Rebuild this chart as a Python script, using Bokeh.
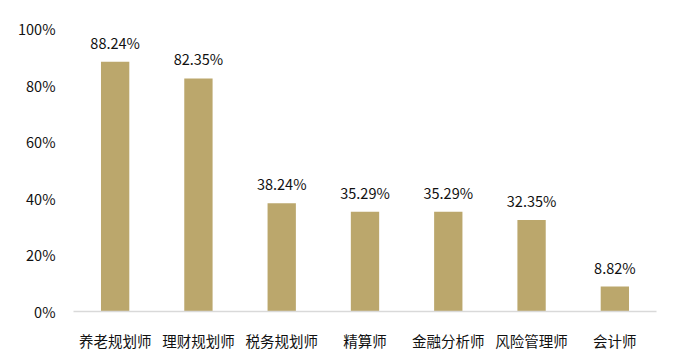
from bokeh.plotting import figure
from bokeh.models import ColumnDataSource, Range1d, FixedTicker, PrintfTickFormatter
from bokeh.core.properties import value
from bokeh.embed import file_html
from bokeh.resources import INLINE

categories = ["养老规划师", "理财规划师", "税务规划师", "精算师", "金融分析师", "风险管理师", "会计师"]
values = [88.24, 82.35, 38.24, 35.29, 35.29, 32.35, 8.82]
labels = ["88.24%", "82.35%", "38.24%", "35.29%", "35.29%", "32.35%", "8.82%"]
y_ticks = [0, 20, 40, 60, 80, 100]

FONT = "Noto Sans CJK SC"
src = ColumnDataSource(dict(cat=categories, val=values, lab=labels))

p = figure(x_range=categories, y_range=Range1d(0, 100), width=700, height=364,
           output_backend="svg", toolbar_location=None,
           min_border_left=73, min_border_right=44, min_border_top=28, min_border_bottom=53)
p.vbar(x="cat", top="val", width=0.34, source=src, fill_color="#BBA76C", line_color=None)
p.text(x="cat", y="val", text="lab", source=src, text_align="center", text_baseline="bottom",
       y_offset=-9, text_font=value(FONT), text_font_size="14.5px", text_color="#111111")

p.outline_line_color = None
p.grid.grid_line_color = None
p.background_fill_color = "white"
p.border_fill_color = "white"

p.yaxis.ticker = FixedTicker(ticks=y_ticks)
p.yaxis.formatter = PrintfTickFormatter(format="%d%%")
p.yaxis.axis_line_color = None
p.yaxis.major_tick_line_color = None
p.yaxis.minor_tick_line_color = None
p.yaxis.major_label_standoff = 12
p.yaxis.major_label_text_font = FONT
p.yaxis.major_label_text_font_size = "14.5px"
p.yaxis.major_label_text_color = "#111111"

p.xaxis.axis_line_color = "#D9D9D9"
p.xaxis.axis_line_width = 1.5
p.xaxis.major_tick_line_color = None
p.xaxis.minor_tick_line_color = None
p.xaxis.major_label_standoff = 12
p.xaxis.major_label_text_font = FONT
p.xaxis.major_label_text_font_size = "14.5px"
p.xaxis.major_label_text_color = "#111111"

open("out.html", "w").write(file_html(p, INLINE))
